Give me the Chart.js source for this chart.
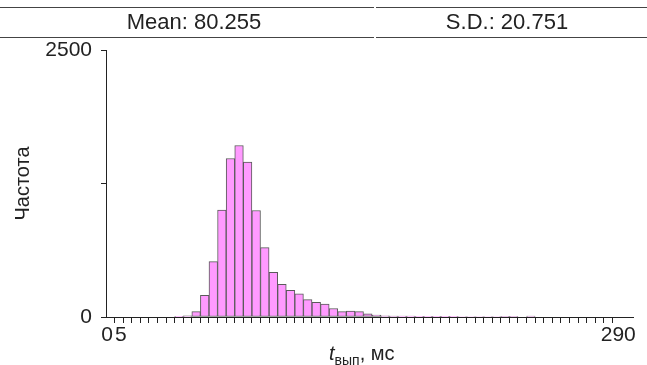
<!DOCTYPE html>
<html>
<head>
<meta charset="utf-8">
<script src="https://cdn.jsdelivr.net/npm/chart.js@4.4.1/dist/chart.umd.min.js"></script>
<style>
html,body{margin:0;padding:0;background:#fff;}
#wrap{position:relative;width:647px;height:365px;overflow:hidden;font-family:'Liberation Sans',Arial,sans-serif;color:#222;}
#c{position:absolute;left:0;top:0;}
.hl{position:absolute;height:0;border-top:1.5px solid #444;}
.stat{position:absolute;top:10px;font-size:22px;line-height:24px;transform:translateX(-50%);white-space:nowrap;}
#xt{position:absolute;left:329px;top:341px;font-size:20px;line-height:24px;white-space:nowrap;}
#xt .sub{font-size:14px;position:relative;top:5px;}
</style>
</head>
<body>
<div id="wrap">
<canvas id="c" width="647" height="365"></canvas>
<div class="hl" style="left:0;width:374px;top:7px"></div>
<div class="hl" style="left:376px;width:271px;top:7px"></div>
<div class="hl" style="left:0;width:374px;top:37px"></div>
<div class="hl" style="left:376px;width:271px;top:37px"></div>
<div class="stat" style="left:194px">Mean: 80.255</div>
<div class="stat" style="left:507px">S.D.: 20.751</div>
<div id="xt"><i>t</i><span class="sub">вып</span>, мс</div>
</div>
<script>
// Histogram bins (start of each 5 ms bin) and counts
const binStarts = [35,40,45,50,55,60,65,70,75,80,85,90,95,100,105,110,115,120,125,130,135,140,145,150,155,160,165,170,175,180,185,190,195,200,205,210,215,220,225,230,235,240];
const counts    = [6,10,50,203,518,1000,1484,1606,1450,997,650,419,306,250,216,162,138,122,80,50,55,50,30,18,12,9,8,8,7,7,6,6,6,5,5,5,5,5,4,4,0,9];
const binWidth = 5;

// Axis ticks
const xTickValues = [0,5,10,15,20,25,30,35,40,45,50,55,60,65,70,75,80,85,90,95,100,105,110,115,120,125,130,135,140,145,150,155,160,165,170,175,180,185,190,195,200,205,210,215,220,225,230,235,240,245,250,255,260,265,270,275,280,285,290];
const xTickLabels = ['0','5','290'];
const xLabelAt    = [-4.4, 3.7, 293.4];
const yTickValues = [0,1250,2500];
const yTickLabels = ['0','','2500'];

const FONT = "'Liberation Sans', Arial, sans-serif";
const INK = '#222';

const barData = binStarts.map((b,i)=>({x:b+binWidth/2, y:counts[i]}));

new Chart(document.getElementById('c'), {
  type:'bar',
  data:{datasets:[{
    data:barData,
    backgroundColor:'#ff9aff',
    borderColor:'#5a5a5a',
    borderWidth:1,
    borderSkipped:false,
    barPercentage:1,
    categoryPercentage:1
  }]},
  options:{
    responsive:false,
    devicePixelRatio:1,
    animation:false,
    layout:{padding:{top:50,right:14,bottom:0,left:0}},
    plugins:{legend:{display:false},tooltip:{enabled:false}},
    scales:{
      x:{
        type:'linear', min:-5, max:302, offset:false, position:'bottom',
        grid:{display:true,drawOnChartArea:false,drawTicks:true,tickLength:6,color:INK,offset:false},
        border:{display:true,color:INK,width:1},
        ticks:{display:false,autoSkip:false},
        afterBuildTicks:s=>{ s.ticks = xTickValues.map(v=>({value:v})); },
        afterFit:s=>{ s.height = 6; }
      },
      x2:{
        type:'linear', min:-5, max:302, offset:false, position:'bottom',
        grid:{display:false,drawTicks:false},
        border:{display:false},
        ticks:{autoSkip:false,maxRotation:0,padding:0,color:INK,font:{family:FONT,size:21},
          callback:(v,i)=>xTickLabels[i]},
        afterBuildTicks:s=>{ s.ticks = xLabelAt.map(v=>({value:v})); },
        afterFit:s=>{ s.height = 42; }
      },
      y:{
        type:'linear', min:0, max:2500, position:'left',
        grid:{drawOnChartArea:false,tickLength:5,color:INK},
        border:{color:INK,width:1},
        ticks:{padding:9,color:INK,autoSkip:false,font:{family:FONT,size:21},
          callback:(v,i)=>yTickLabels[i]},
        afterBuildTicks:s=>{ s.ticks = yTickValues.map(v=>({value:v})); },
        afterFit:s=>{ s.width = 106; },
        title:{display:true,text:'Частота',color:INK,font:{family:FONT,size:20},padding:{top:11,bottom:0}}
      }
    }
  }
});
</script>
</body>
</html>
